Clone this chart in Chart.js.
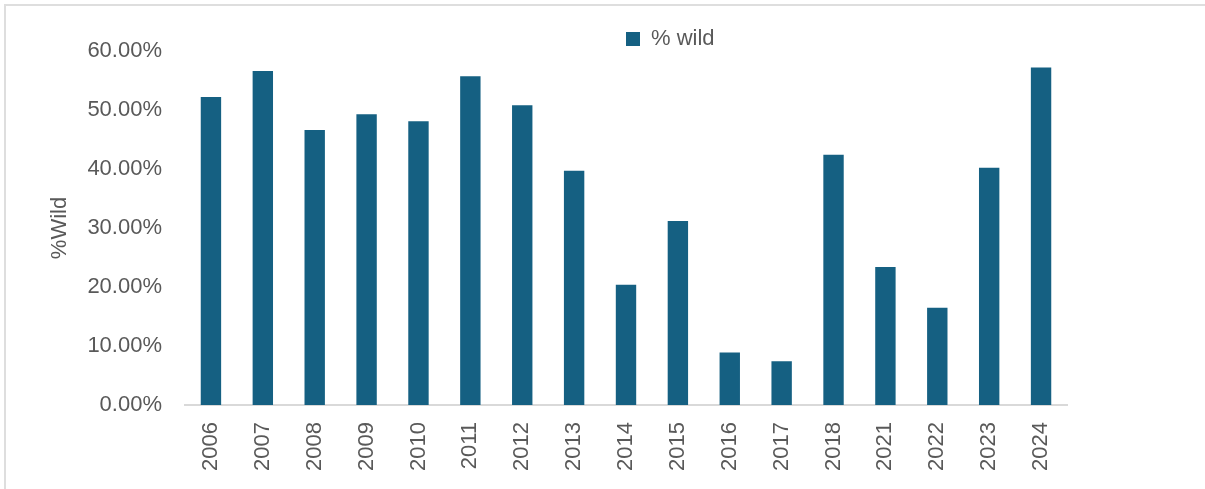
<!DOCTYPE html>
<html>
<head>
<meta charset="utf-8">
<script src="https://cdn.jsdelivr.net/npm/chart.js@4.4.1/dist/chart.umd.min.js"></script>
<style>
  html, body { margin: 0; padding: 0; background: #fff; }
  #wrap { position: relative; width: 1205px; height: 489px; overflow: hidden; }
  #frame { position: absolute; left: 4px; top: 4px; width: 1300px; height: 600px;
           border-top: 2px solid #dedede; border-left: 2px solid #dedede; }
  canvas { position: absolute; left: 0; top: 0; }
</style>
</head>
<body>
<div id="wrap">
  <div id="frame"></div>
  <canvas id="chart" width="1205" height="489"></canvas>
</div>
<script>
// years on the x axis
const years = ['2006', '2007', '2008', '2009', '2010', '2011', '2012', '2013', '2014',
               '2015', '2016', '2017', '2018', '2021', '2022', '2023', '2024'];
// share of wild fish, in percent
const pctWild = [52.2, 56.6, 46.6, 49.3, 48.1, 55.7, 50.8, 39.7, 20.4,
                 31.2, 8.9, 7.4, 42.4, 23.4, 16.5, 40.2, 57.2];
const seriesLabel = '% wild';
const axisTitle = '%Wild';

const grey = '#595959';
Chart.defaults.font.family = "'Liberation Sans', Arial, sans-serif";
Chart.defaults.color = grey;

// move the legend to where Excel put it (a bit right of centre)
const moveLegend = {
    id: 'moveLegend',
    beforeDraw(chart) {
        const lg = chart.legend;
        if (!lg || lg._moved) return;
        const pad = lg.options.labels.padding;
        const lw = lg.lineWidths ? lg.lineWidths[0] : 0;
        const curX = (lg.left + pad + lg.right - lw) / 2;
        const dx = 626 - curX;
        const curY = lg.top + pad + 11;
        const dy = 39 - curY;
        lg.left += dx; lg.right += dx;
        lg.top += dy; lg.bottom += dy;
        lg._moved = true;
    }
};

new Chart(document.getElementById('chart'), {
    type: 'bar',
    data: {
        labels: years,
        datasets: [{
            label: seriesLabel,
            data: pctWild,
            backgroundColor: '#156082',
            borderWidth: 0,
            categoryPercentage: 1,
            barPercentage: 0.393
        }]
    },
    options: {
        responsive: false,
        animation: false,
        layout: { padding: { left: 47, right: 138, top: 15, bottom: 0 } },
        plugins: {
            legend: {
                position: 'top',
                labels: {
                    boxWidth: 14,
                    boxHeight: 14,
                    padding: 4,
                    color: grey,
                    font: { size: 22 }
                }
            },
            tooltip: { enabled: false }
        },
        scales: {
            x: {
                grid: { display: false, drawTicks: false },
                border: { display: true, color: '#d9d9d9', width: 2 },
                ticks: {
                    minRotation: 90,
                    maxRotation: 90,
                    padding: 17,
                    color: grey,
                    font: { size: 22 }
                },
                afterFit(scale) { scale.height = 84; }
            },
            y: {
                min: 0,
                max: 60,
                grid: { display: false, drawTicks: false },
                border: { display: false },
                ticks: {
                    stepSize: 10,
                    padding: 23,
                    color: grey,
                    font: { size: 22 },
                    callback: v => v.toFixed(2) + '%'
                },
                title: {
                    display: true,
                    text: axisTitle,
                    color: grey,
                    font: { size: 22 },
                    padding: { top: 0, bottom: 0 }
                },
                afterFit(scale) { scale.width = 138; }
            }
        }
    },
    plugins: [moveLegend]
});
</script>
</body>
</html>
